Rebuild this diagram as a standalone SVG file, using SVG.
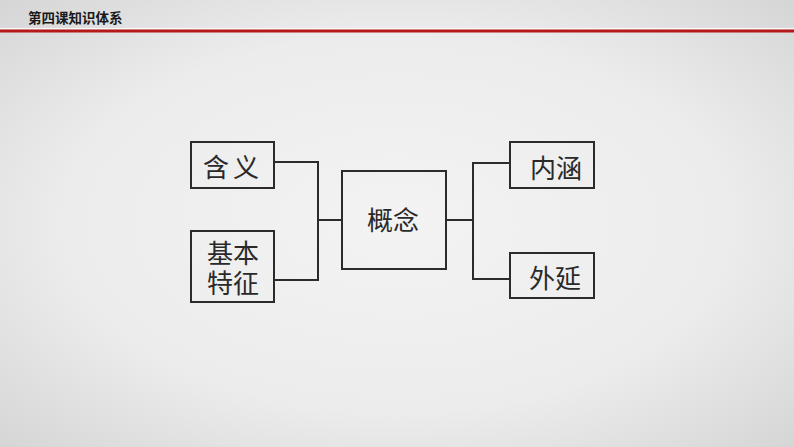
<svg xmlns="http://www.w3.org/2000/svg" width="794" height="447" viewBox="0 0 794 447">
<defs>
<radialGradient id="bg" cx="50%" cy="50%" r="70%">
<stop offset="0" stop-color="#f3f3f3"/>
<stop offset="0.6" stop-color="#ececec"/>
<stop offset="1" stop-color="#d6d6d6"/>
</radialGradient>
<style>
.box{fill:none;stroke:#2b2b2b;stroke-width:2}
.con{fill:none;stroke:#2b2b2b;stroke-width:2}
.t{font-family:"Noto Sans CJK SC","Noto Sans CJK JP",sans-serif;font-size:26px;fill:#2a2a2a;text-anchor:middle;dominant-baseline:central}
</style>
</defs>
<rect width="794" height="447" fill="url(#bg)"/>
<text x="28" y="17" font-family="'Noto Sans CJK SC',sans-serif" font-size="13.5" font-weight="bold" fill="#1a1a1a" dominant-baseline="central">第四课知识体系</text>
<rect x="0" y="28" width="794" height="1.5" fill="#fafafa"/>
<rect x="0" y="29.5" width="794" height="3" fill="#b5191a"/>
<g id="connectors">
<polyline class="con" points="274,162 318,162 318,280 274,280"/>
<line class="con" x1="318" y1="220" x2="342" y2="220"/>
<line class="con" x1="446" y1="220" x2="473" y2="220"/>
<polyline class="con" points="510,163 473,163 473,279 510,279"/>
</g>
<g id="hanyi">
<rect class="box" x="191" y="142" width="83" height="46"/>
<text class="t" x="233" y="165" letter-spacing="4">含义</text>
</g>
<g id="jibentezheng">
<rect class="box" x="191" y="231" width="83" height="71"/>
<text class="t"><tspan x="233" y="251">基本</tspan><tspan x="233" y="281">特征</tspan></text>
</g>
<g id="gainian">
<rect class="box" x="342" y="171" width="104" height="98"/>
<text class="t" x="393" y="218">概念</text>
</g>
<g id="neihan">
<rect class="box" x="510" y="142" width="84" height="46"/>
<text class="t" x="556" y="166">内涵</text>
</g>
<g id="waiyan">
<rect class="box" x="510" y="253" width="84" height="45"/>
<text class="t" x="555" y="276">外延</text>
</g>
</svg>
